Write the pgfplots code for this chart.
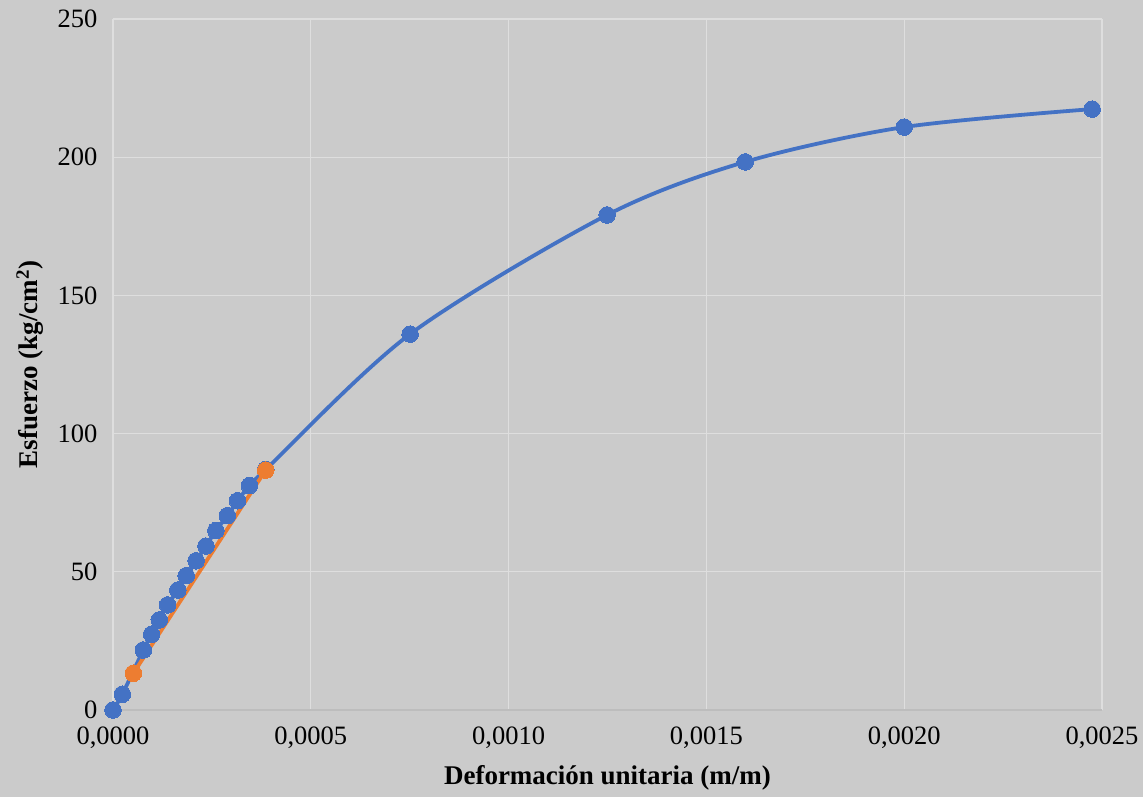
\documentclass[border=0pt]{standalone}
\usepackage{pgfplots}
\pgfplotsset{compat=1.18}
\usepackage{fontspec}
\setmainfont{Liberation Serif}
\definecolor{bg}{HTML}{CBCBCB}
\definecolor{gridc}{HTML}{DEDEDE}
\definecolor{axc}{HTML}{BDBDBD}
\definecolor{sblue}{HTML}{4472C4}
\definecolor{sorange}{HTML}{ED7D31}
\begin{document}
\begin{tikzpicture}[x=1pt,y=1pt]
\fill[bg] (-113,-87) rectangle (1030,710);
\useasboundingbox (-113,-87) rectangle (1030,710);
\begin{axis}[
  at={(0,0)}, anchor=south west,
  scale only axis, width=989pt, height=691pt,
  xmin=0, xmax=0.0025, ymin=0, ymax=250,
  xtick={0,0.0005,0.001,0.0015,0.002,0.0025},
  ytick={0,50,100,150,200,250},
  scaled x ticks=false,
  xticklabel style={/pgf/number format/.cd, fixed, fixed zerofill, precision=4, use comma, assume math mode=true},
  yticklabel style={/pgf/number format/assume math mode=true},
  tick label style={font=\fontsize{26.5}{30}\selectfont, text=black},
  xticklabel shift=13pt, yticklabel shift=12pt,
  major tick length=0pt,
  grid=major, grid style={gridc, line width=1.3pt},
  axis line style={draw=none},
  axis x line*=bottom, axis y line*=left,
  x axis line style={draw=axc, line width=1.3pt},
  xlabel={\textbf{Deformación unitaria (m/m)}},
  ylabel={\textbf{Esfuerzo (kg/cm\textsuperscript{2})}},
  label style={font=\fontsize{27}{30}\selectfont},
  xlabel style={at={(axis description cs:0.5,-0.0984)}, anchor=center},
  ylabel style={at={(axis description cs:-0.0839,0.5)}, anchor=center},
  clip=false,
]
\addplot[sblue, line width=3.8pt, smooth, mark=*, mark size=8.3pt, mark options={fill=sblue, draw=sblue, line width=0pt}] coordinates {
(0,0) (0.0000236,5.7) (0.0000767,21.7) (0.0000977,27.4) (0.000117,32.6)
(0.000138,38.0) (0.000164,43.4) (0.000185,48.6) (0.00021,54.0) (0.000235,59.3)
(0.00026,64.9) (0.000289,70.3) (0.000315,75.7) (0.000345,81.2) (0.000386,87.0)
(0.000751,136.0) (0.001249,179.1) (0.001598,198.3) (0.0020,210.9) (0.002475,217.4)
};
\addplot[sorange, line width=3.8pt, mark=*, mark size=8.3pt, mark options={fill=sorange, draw=sorange, line width=0pt}] coordinates {
(0.0000515,13.3) (0.000386,86.8)
};
\end{axis}
\end{tikzpicture}
\end{document}
